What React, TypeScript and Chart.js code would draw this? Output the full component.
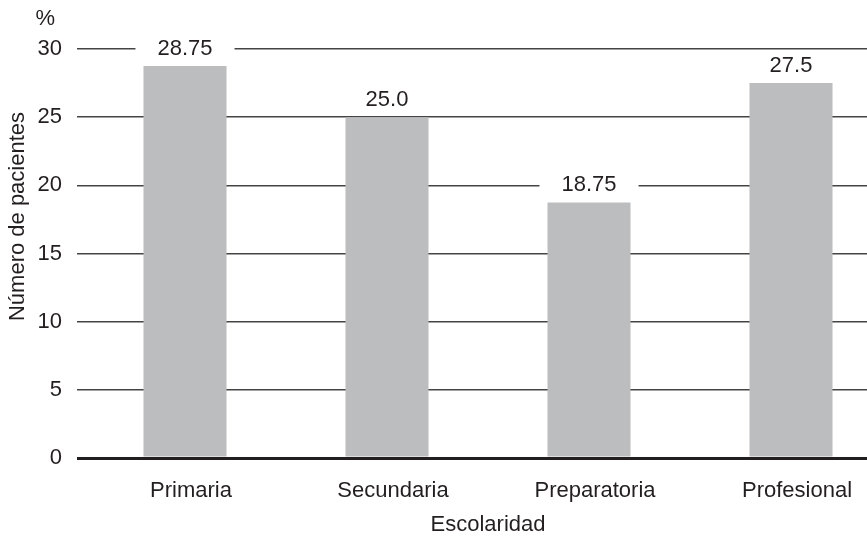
import React, { useEffect, useRef } from "react";
import { Chart, registerables } from "chart.js";

Chart.register(...registerables);

const categories = ["Primaria", "Secundaria", "Preparatoria", "Profesional"];
const values = [28.75, 25.0, 18.75, 27.5];
const valueLabels = ["28.75", "25.0", "18.75", "27.5"];
const yMin = 0;
const yMax = 30;
const yStep = 5;
const yUnit = "%";
const yTitle = "Número de pacientes";
const xTitle = "Escolaridad";

const FONT = "'Liberation Sans', Arial, Helvetica, sans-serif";
const FS = 22;
const TEXT = "#231f20";
const GRID = "#444444";
const ZERO = "#231f20";
const BAR = "#bcbdbf";

const labelPlugin = {
  id: "valueLabels",
  afterDatasetsDraw(chart: any) {
    const ctx = chart.ctx;
    const meta = chart.getDatasetMeta(0);
    const area = chart.chartArea;
    const yScale = chart.scales.y;
    ctx.save();
    ctx.font = `${FS}px ${FONT}`;
    meta.data.forEach((bar: any, i: number) => {
      const txt = valueLabels[i];
      const w = ctx.measureText(txt).width;
      const y = bar.y - 11;
      ctx.fillStyle = "#ffffff";
      ctx.fillRect(bar.x - w / 2 - 22, y - 19, w + 44, 22);
      ctx.fillStyle = TEXT;
      ctx.textAlign = "center";
      ctx.textBaseline = "alphabetic";
      ctx.fillText(txt, bar.x, y);
    });
    // unit label above the y axis
    ctx.fillStyle = TEXT;
    ctx.textAlign = "right";
    ctx.textBaseline = "alphabetic";
    ctx.fillText(yUnit, area.left - 29, yScale.getPixelForValue(yMax) - 24);
    // y axis title
    ctx.save();
    ctx.translate(18, (area.top + area.bottom) / 2 - 37);
    ctx.rotate(-Math.PI / 2);
    ctx.textAlign = "center";
    ctx.textBaseline = "middle";
    ctx.fillText(yTitle, 0, 0);
    ctx.restore();
    ctx.restore();
  },
};

export default function App() {
  const ref = useRef<HTMLCanvasElement | null>(null);

  useEffect(() => {
    if (!ref.current) return;
    const chart = new Chart(ref.current, {
      type: "bar",
      data: {
        labels: categories,
        datasets: [
          {
            data: values,
            backgroundColor: BAR,
            borderWidth: 0,
            categoryPercentage: 1,
            barPercentage: 0.411,
          },
        ],
      },
      options: {
        animation: false,
        responsive: true,
        maintainAspectRatio: false,
        layout: { padding: { top: 49, right: 0, bottom: 0, left: 0 } },
        plugins: {
          legend: { display: false },
          tooltip: { enabled: false },
        },
        scales: {
          x: {
            grid: { display: false, drawTicks: false },
            border: { display: false },
            ticks: {
              color: TEXT,
              font: { family: FONT, size: FS },
              padding: 20,
              labelOffset: 6,
            },
            title: {
              display: true,
              text: xTitle,
              color: TEXT,
              font: { family: FONT, size: FS },
              padding: { top: 0, bottom: 1 },
            },
            afterFit: (scale: any) => {
              scale.height = 81;
            },
          },
          y: {
            min: yMin,
            max: yMax,
            grid: {
              color: (c: any) => (c.tick && c.tick.value === 0 ? ZERO : GRID),
              lineWidth: (c: any) => (c.tick && c.tick.value === 0 ? 3 : 1.5),
              drawTicks: true,
              tickLength: 7,
            },
            border: { display: false },
            ticks: {
              stepSize: yStep,
              color: TEXT,
              font: { family: FONT, size: FS },
              padding: 15,
            },
            afterFit: (scale: any) => {
              scale.width = 84;
            },
          },
        },
      },
      plugins: [labelPlugin],
    });
    return () => chart.destroy();
  }, []);

  return (
    <div
      style={{
        position: "fixed",
        left: 0,
        top: 0,
        width: 867,
        height: 539,
        overflow: "hidden",
        background: "#ffffff",
      }}
    >
      <div style={{ width: 892, height: 539, position: "relative" }}>
        <canvas ref={ref} />
      </div>
    </div>
  );
}
